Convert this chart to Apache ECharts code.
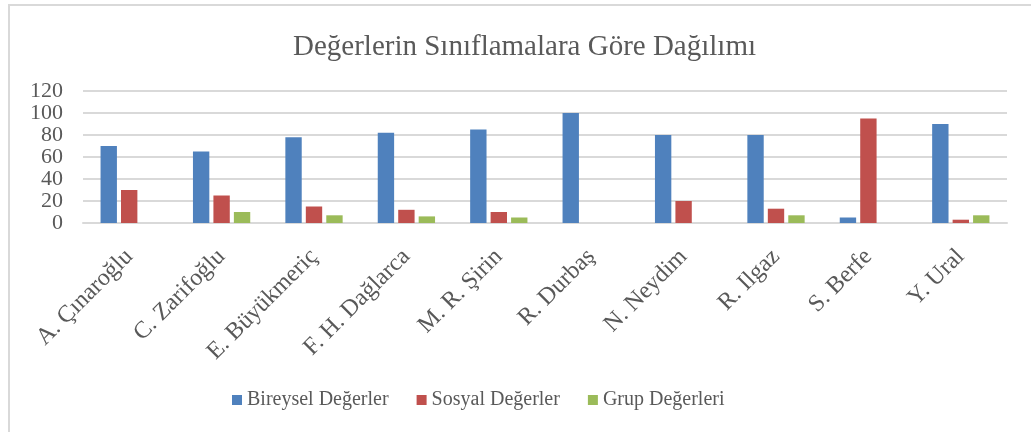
<!DOCTYPE html>
<html lang="tr">
<head>
    <meta charset="UTF-8">
    <title>Değerlerin Sınıflamalara Göre Dağılımı</title>
    <script src="https://cdn.jsdelivr.net/npm/echarts@6/dist/echarts.min.js"></script>
    <style>
        html, body { margin: 0; padding: 0; background: #fff; }
    </style>
</head>
<body>
<div id="main" style="width: 1031px;height:432px;"></div>
<script>
    // kategoriler (yazarlar)
    var yazarlar = ['A. Çınaroğlu', 'C. Zarifoğlu', 'E. Büyükmeriç', 'F. H. Dağlarca', 'M. R. Şirin',
        'R. Durbaş', 'N. Neydim', 'R. Ilgaz', 'S. Berfe', 'Y. Ural'];
    var bireysel = [70, 65, 78, 82, 85, 100, 80, 80, 5, 90];
    var sosyal = [30, 25, 15, 12, 10, 0, 20, 13, 95, 3];
    var grup = [0, 10, 7, 6, 5, 0, 0, 7, 0, 7];
    var seriAdlari = ['Bireysel Değerler', 'Sosyal Değerler', 'Grup Değerleri'];
    var renkler = ['#4f81bd', '#c0504d', '#9bbb59'];

    var font = '"Liberation Serif", "Times New Roman", serif';
    var myChart = echarts.init(document.getElementById('main'));

    function seri(ad, veri, renk) {
        return {
            name: ad,
            type: 'bar',
            barGap: '25%',
            barCategoryGap: '38%',
            itemStyle: { color: renk },
            data: veri
        };
    }

    var option = {
        animation: false,
        color: renkler,
        title: {
            text: 'Değerlerin Sınıflamalara Göre Dağılımı',
            left: 288,
            top: 28,
            textStyle: { fontFamily: font, fontSize: 29, fontWeight: 'normal', color: '#595959' }
        },
        graphic: [{
            type: 'rect',
            shape: { x: 9, y: 5, width: 1100, height: 500 },
            style: { fill: 'none', stroke: '#d9d9d9', lineWidth: 2 },
            silent: true
        }],
        legend: {
            data: seriAdlari,
            bottom: 17,
            left: 227,
            icon: 'rect',
            itemWidth: 10,
            itemHeight: 10,
            itemGap: 28,
            textStyle: { fontFamily: font, fontSize: 20, color: '#595959' }
        },
        grid: {
            left: 83,
            right: 24,
            top: 91,
            bottom: 209
        },
        xAxis: {
            type: 'category',
            data: yazarlar,
            axisLine: { lineStyle: { color: '#d9d9d9', width: 2 } },
            axisTick: { show: false },
            axisLabel: {
                rotate: 45,
                margin: 30,
                fontFamily: font,
                fontSize: 24,
                color: '#595959'
            }
        },
        yAxis: {
            type: 'value',
            min: 0,
            max: 120,
            interval: 20,
            axisLine: { show: false },
            axisTick: { show: false },
            splitLine: { lineStyle: { color: '#d9d9d9', width: 2 } },
            axisLabel: {
                margin: 20,
                fontFamily: font,
                fontSize: 22,
                color: '#595959'
            }
        },
        series: [
            seri(seriAdlari[0], bireysel, renkler[0]),
            seri(seriAdlari[1], sosyal, renkler[1]),
            seri(seriAdlari[2], grup, renkler[2])
        ]
    };

    myChart.setOption(option);
</script>
</body>
</html>
